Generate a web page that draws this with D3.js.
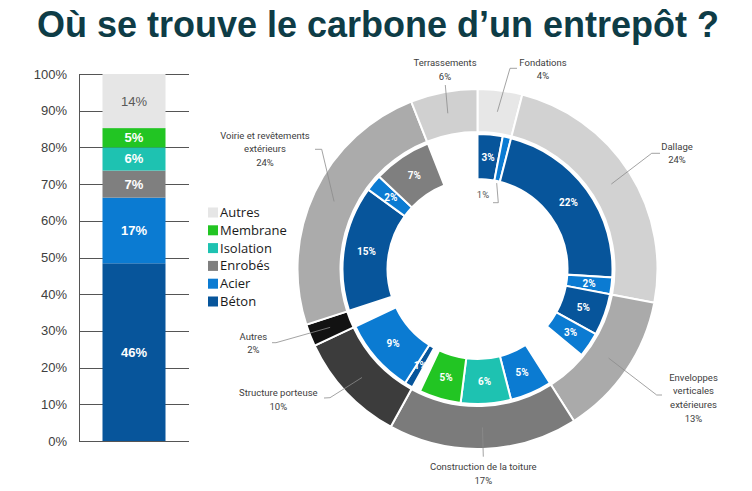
<!DOCTYPE html>
<html><head><meta charset="utf-8">
<script src="https://cdn.jsdelivr.net/npm/d3@7"></script>
<style>
html,body{margin:0;padding:0;background:#fff;}
svg{display:block;}
</style></head>
<body>
<svg id="chart" width="752" height="491"></svg>
<script>
// ---------- DATA ----------
const title = "Où se trouve le carbone d’un entrepôt ?";

// Stacked bar (share by material)
const materials = ["Béton", "Acier", "Enrobés", "Isolation", "Membrane", "Autres"];
const barValues = [46, 17, 7, 6, 5, 14];
const yTickValues = [0, 10, 20, 30, 40, 50, 60, 70, 80, 90, 100];
const yTickLabels = ["0%", "10%", "20%", "30%", "40%", "50%", "60%", "70%", "80%", "90%", "100%"];

// Outer ring (by building lot)
const outerCats = ["Fondations", "Dallage", "Enveloppes verticales extérieures",
  "Construction de la toiture", "Structure porteuse", "Autres",
  "Voirie et revêtements extérieurs", "Terrassements"];
const outerValues = [4, 24, 13, 17, 10, 2, 24, 6];
const outerLabelLines = [["Fondations"], ["Dallage"], ["Enveloppes", "verticales", "extérieures"],
  ["Construction de la toiture"], ["Structure porteuse"], ["Autres"],
  ["Voirie et revêtements", "extérieurs"], ["Terrassements"]];

// Inner ring (material inside each lot, null = not shown)
const innerMaterials = ["Béton", "Acier", "Béton", "Acier", "Béton", "Acier", null,
  "Acier", "Isolation", "Membrane", null, "Béton", "Acier", null,
  "Béton", "Acier", "Enrobés", null];
const innerValues = [3, 1, 22, 2, 5, 3, 5, 5, 6, 5, 1, 1, 9, 2, 15, 2, 7, 6];

// ---------- STYLE / LAYOUT ----------
const matColor = {
  "Béton": "#07559b", "Acier": "#0b7bd2", "Enrobés": "#7f7f7f",
  "Isolation": "#1ec2b1", "Membrane": "#22c523", "Autres": "#e6e6e6"
};
const outerColor = ["#e7e7e7", "#d2d2d2", "#aaaaaa", "#7b7b7b", "#3c3c3c", "#121212", "#ababab", "#d0d0d0"];
const barLabelColor = {"Autres": "#595959"};

const svg = d3.select("#chart");

// Title
svg.append("text")
  .attr("x", 378).attr("y", 37)
  .attr("text-anchor", "middle")
  .attr("font-family", "Liberation Sans, Arial, sans-serif")
  .attr("font-weight", "bold")
  .attr("font-size", 36)
  .attr("fill", "#0e3c46")
  .text(title);

// ---------- STACKED BAR ----------
const total = d3.sum(barValues);
const y = d3.scaleLinear().domain([0, 100]).range([441, 74]);
const x = d3.scaleBand().domain(["Entrepôt"]).range([79, 189]).paddingInner(0).paddingOuter(0.373);

const gBar = svg.append("g");
gBar.selectAll("line.grid").data(yTickValues).join("line")
  .attr("class", "grid")
  .attr("x1", 79).attr("x2", 189)
  .attr("y1", d => Math.round(y(d)) + 0.5).attr("y2", d => Math.round(y(d)) + 0.5)
  .attr("stroke", "#555").attr("stroke-width", 1);
gBar.append("line")
  .attr("x1", 79.5).attr("x2", 79.5).attr("y1", y(100)).attr("y2", y(0))
  .attr("stroke", "#555").attr("stroke-width", 1);
gBar.selectAll("text.tick").data(yTickValues).join("text")
  .attr("class", "tick")
  .attr("x", 67).attr("y", d => y(d) + 4.5)
  .attr("text-anchor", "end")
  .attr("font-family", "Liberation Sans, Arial, sans-serif")
  .attr("font-size", 13)
  .attr("fill", "#404040")
  .text((d, i) => yTickLabels[i]);

let acc = 0;
const stackData = materials.map((m, i) => {
  const share = barValues[i] / total * 100;
  const d = {m, v: barValues[i], y0: acc, y1: acc + share};
  acc += share;
  return d;
});
gBar.selectAll("rect.seg").data(stackData).join("rect")
  .attr("class", "seg")
  .attr("x", x("Entrepôt")).attr("width", x.bandwidth())
  .attr("y", d => y(d.y1)).attr("height", d => y(d.y0) - y(d.y1))
  .attr("fill", d => matColor[d.m]);
gBar.selectAll("text.seglab").data(stackData).join("text")
  .attr("class", "seglab")
  .attr("x", x("Entrepôt") + x.bandwidth() / 2)
  .attr("y", d => y((d.y0 + d.y1) / 2) + 4.5)
  .attr("text-anchor", "middle")
  .attr("font-family", "Liberation Sans, Arial, sans-serif")
  .attr("font-weight", d => d.m === "Autres" ? "normal" : "bold")
  .attr("font-size", 13)
  .attr("fill", d => barLabelColor[d.m] || "#ffffff")
  .text(d => d.v + "%");

// Legend
const legendOrder = materials.slice().reverse();
const gLeg = svg.append("g");
gLeg.selectAll("rect").data(legendOrder).join("rect")
  .attr("x", 208).attr("y", (d, i) => 207.5 + i * 17.8)
  .attr("width", 10).attr("height", 10)
  .attr("fill", d => matColor[d]);
gLeg.selectAll("text").data(legendOrder).join("text")
  .attr("x", 220).attr("y", (d, i) => 217 + i * 17.8)
  .attr("font-family", "Open Sans, Liberation Sans, sans-serif")
  .attr("font-size", 13)
  .attr("fill", "#1a1a1a")
  .text(d => d);

// ---------- DONUT ----------
const cx = 477.5, cy = 269;
const gD = svg.append("g").attr("transform", `translate(${cx},${cy})`);
const pie = d3.pie().sort(null).value(d => d.v);

const outerData = pie(outerCats.map((c, i) => ({c, v: outerValues[i], i})));
const innerData = pie(innerMaterials.map((m, i) => ({m, v: innerValues[i], i})));

const arcOuter = d3.arc().innerRadius(137).outerRadius(180);
const arcInner = d3.arc().innerRadius(90).outerRadius(135);
const arcOuterMid = d3.arc().innerRadius(158.5).outerRadius(158.5);
const arcInnerMid = d3.arc().innerRadius(112.5).outerRadius(112.5);

gD.selectAll("path.outer").data(outerData).join("path")
  .attr("class", "outer")
  .attr("d", arcOuter)
  .attr("fill", d => outerColor[d.data.i])
  .attr("stroke", "#fff").attr("stroke-width", 2);

gD.selectAll("path.inner").data(innerData.filter(d => d.data.m)).join("path")
  .attr("class", "inner")
  .attr("d", arcInner)
  .attr("fill", d => matColor[d.data.m])
  .attr("stroke", "#fff").attr("stroke-width", 2);

const outsideInner = new Set([1]);
gD.selectAll("text.inlab").data(innerData.filter(d => d.data.m && !outsideInner.has(d.data.i))).join("text")
  .attr("class", "inlab")
  .attr("x", d => arcInnerMid.centroid(d)[0])
  .attr("y", d => arcInnerMid.centroid(d)[1] + 3.5)
  .attr("text-anchor", "middle")
  .attr("font-family", "Roboto, Liberation Sans, sans-serif")
  .attr("font-weight", "bold")
  .attr("font-size", 10)
  .attr("fill", "#fff")
  .text(d => d.data.v + "%");

const leaderLayoutInner = {1: {pts: [[20.8, -66.3], [15.5, -66.3]], tx: 5.5, ty: -71}};
innerData.filter(d => outsideInner.has(d.data.i)).forEach(d => {
  const L = leaderLayoutInner[d.data.i];
  const a = (d.startAngle + d.endAngle) / 2;
  const start = [88 * Math.sin(a), -88 * Math.cos(a)];
  gD.append("path")
    .attr("d", d3.line()([start, ...L.pts]))
    .attr("fill", "none").attr("stroke", "#8c8c8c").attr("stroke-width", 0.8);
  gD.append("text")
    .attr("x", L.tx).attr("y", L.ty)
    .attr("text-anchor", "middle")
    .attr("font-family", "Roboto, Liberation Sans, sans-serif")
    .attr("font-size", 9.5)
    .attr("fill", "#555")
    .text(d.data.v + "%");
});

const outerLayout = [
  {pts: [[32.5, -200.7], [39.5, -200.7]], tx: 65.5, ty: -203.5},           // Fondations
  {pts: [[174.2, -115.7], [182.5, -115.7]], tx: 199.5, ty: -119.5},        // Dallage
  {pts: [[179.2, 126], [184.5, 126]], tx: 216, ty: 111.5},                 // Enveloppes
  {pts: [[5.8, 187.7]], tx: 5.8, ty: 201},                                 // Toiture
  {pts: [[-147.5, 128.7], [-153.5, 129]], tx: -199.2, ty: 127},            // Structure
  {pts: [[-201.5, 73.7], [-205.5, 73.7]], tx: -224.2, ty: 70.5},           // Autres
  {pts: [[-155.8, -119.7], [-162.5, -119.7]], tx: -212.5, ty: -130.5},     // Voirie
  {pts: [[-32.2, -184]], tx: -32.5, ty: -203}                              // Terrassements
];
outerData.forEach(d => {
  const L = outerLayout[d.data.i];
  const start = arcOuterMid.centroid(d);
  gD.append("path")
    .attr("d", d3.line()([start, ...L.pts]))
    .attr("fill", "none").attr("stroke", "#8c8c8c").attr("stroke-width", 0.8);
  const lines = outerLabelLines[d.data.i].concat([d.data.v + "%"]);
  const t = gD.append("text")
    .attr("text-anchor", "middle")
    .attr("font-family", "Roboto, Liberation Sans, sans-serif")
    .attr("font-size", 9.5)
    .attr("fill", "#404040");
  lines.forEach((s, k) => {
    t.append("tspan").attr("x", L.tx).attr("y", L.ty + k * 13.7).text(s);
  });
});
</script>
</body></html>
